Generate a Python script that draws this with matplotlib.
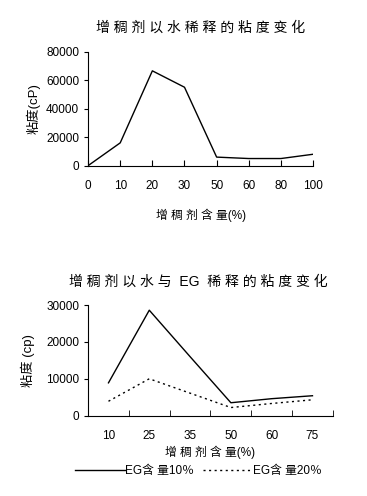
import matplotlib
matplotlib.use("Agg")
import matplotlib.pyplot as plt
import numpy as np

plt.rcParams['font.family'] = ['Liberation Sans', 'Noto Sans CJK SC', 'DejaVu Sans']

# top chart: water dilution
water_x = ["0", "10", "20", "30", "50", "60", "80", "100"]
water_visc = [0, 16000, 66500, 55000, 6000, 5000, 5000, 8000]

# bottom chart: water + EG dilution
eg_x = ["10", "25", "35", "50", "60", "75"]
eg10_visc = [8900, 28600, 16000, 3500, 4600, 5400]
eg20_visc = [3900, 10000, 6100, 2200, 3300, 4300]


def spaced(s):
    # the original uses wide letter spacing
    return " ".join(s)


fig = plt.figure(figsize=(3.67, 4.96), dpi=100)

# ---- top ----
ax1 = fig.add_axes([0.240, 0.666, 0.613, 0.230])
ind = np.arange(len(water_x))
ax1.plot(ind, water_visc, color="black", linewidth=1.0)
ax1.set_xlim(0, len(water_x) - 1)
ax1.set_ylim(0, 80000)
ax1.set_yticks([0, 20000, 40000, 60000, 80000])
ax1.set_xticks(ind)
ax1.set_xticklabels(water_x)
ax1.spines["top"].set_visible(False)
ax1.spines["right"].set_visible(False)
ax1.tick_params(axis="x", direction="in", length=4, pad=10, labelsize=8.5)
ax1.tick_params(axis="y", direction="out", length=3, labelsize=8.5)
ax1.set_ylabel("粘度(cP)", fontsize=9.5, labelpad=4)
ax1.set_xlabel("增 稠 剂 含 量(%)", fontsize=8.5, labelpad=12)
ax1.set_title(spaced("增稠剂以水稀释的粘度变化"), fontsize=10, pad=14)

# ---- bottom ----
ax2 = fig.add_axes([0.240, 0.162, 0.667, 0.223])
ind2 = np.arange(len(eg_x))
l1, = ax2.plot(ind2, eg10_visc, color="black", linewidth=1.0, label="EG含 量10％")
l2, = ax2.plot(ind2, eg20_visc, color="black", linewidth=1.0,
               linestyle=(0, (1.5, 2.5)), label="EG含 量20％")
ax2.set_xlim(-0.5, len(eg_x) - 0.5)
ax2.set_ylim(0, 30000)
ax2.set_yticks([0, 10000, 20000, 30000])
ax2.set_xticks(np.arange(-0.5, len(eg_x)), minor=True)
ax2.set_xticks(ind2)
ax2.set_xticklabels(eg_x)
ax2.spines["top"].set_visible(False)
ax2.spines["right"].set_visible(False)
ax2.tick_params(axis="x", which="major", length=0, pad=10, labelsize=8.5)
ax2.tick_params(axis="x", which="minor", direction="in", length=4)
ax2.tick_params(axis="y", direction="out", length=3, labelsize=8.5)
ax2.set_ylabel("粘度 (cp)", fontsize=9.5, labelpad=8)
ax2.set_xlabel("增 稠 剂 含 量(%)", fontsize=8.5, labelpad=3)
ax2.set_title("增 稠 剂 以 水 与  EG  稀 释 的 粘 度 变 化", fontsize=10, pad=14, x=0.45)
ax2.legend(handles=[l1, l2], loc="center", bbox_to_anchor=(0.45, -0.50),
           ncol=2, frameon=False, fontsize=8.5, handlelength=4.2,
           handletextpad=0.0, columnspacing=0.8)

fig.savefig("out.png", dpi=100)
